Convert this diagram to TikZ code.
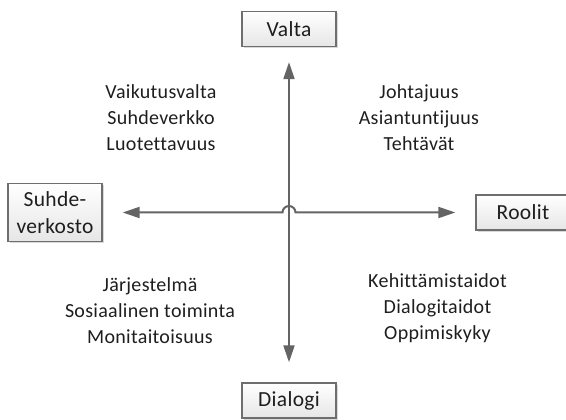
\documentclass[tikz,border=0pt]{standalone}
\usepackage{fontspec}
\setmainfont[Ligatures=NoCommon, LetterSpace=1.5]{Carlito}
\usepackage{tikz}
\usetikzlibrary{arrows.meta,shadows,calc}
\definecolor{axisgray}{RGB}{100,100,100}
\definecolor{boxgray}{RGB}{110,110,110}
\definecolor{boxfill}{RGB}{230,230,230}
\definecolor{textdark}{RGB}{30,30,30}

\begin{document}
\begin{tikzpicture}[
  x=1pt, y=1pt,
  box/.style={rectangle, draw=boxgray, line width=1.3pt, top color=white, bottom color=boxfill,
    minimum width=94pt, minimum height=35pt, align=center, inner sep=2pt,
    text=textdark, font=\fontsize{21.5}{27}\selectfont,
    drop shadow={shadow xshift=2pt, shadow yshift=-2pt, fill=black, opacity=0.15}},
  words/.style={align=center, text=textdark, font=\fontsize{20}{26}\selectfont},
  arrow/.style={{Triangle[length=17pt,width=11pt]}-{Triangle[length=17pt,width=11pt]}, line width=2pt, axisgray}
]
\useasboundingbox (0,0) rectangle (566,420);

% Axis ends
\node[box] (valta) at (289,391) {Valta};
\node[box] (dialogi) at (289,19.5) {Dialogi};
\node[box, minimum height=58pt] (suhde) at (55,207.5) {Suhde-\\verkosto};
\node[box] (roolit) at (523,207.5) {Roolit};

% Crossing point
\coordinate (c) at (valta |- suhde);

% Arrows
\draw[arrow, shorten <=15pt, shorten >=20pt] (valta) -- (dialogi);
\draw[arrow, shorten <=20pt, shorten >=20pt] (suhde) -- ($(c)+(-6.5,0)$)
  arc[start angle=180, end angle=0, radius=6.5] -- (roolit);

% Quadrant texts
\node[words] (power) at (161,302) {Vaikutusvalta\\Suhdeverkko\\Luotettavuus};
\node[words] (roles) at (419,302) {Johtajuus\\Asiantuntijuus\\Tehtävät};
\node[words] (system) at (150,109) {Järjestelmä\\Sosiaalinen toiminta\\Monitaitoisuus};
\node[words] (skills) at (437.5,112) {Kehittämistaidot\\Dialogitaidot\\Oppimiskyky};

\end{tikzpicture}
\end{document}
